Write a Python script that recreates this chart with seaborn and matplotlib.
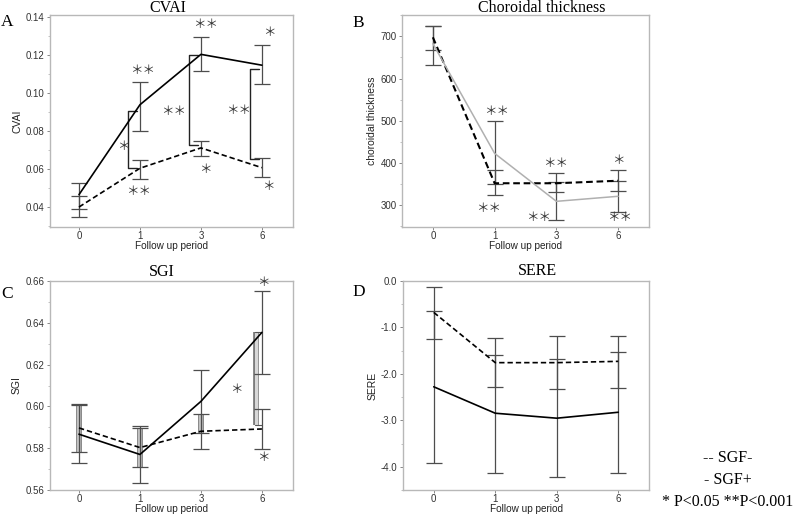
import numpy as np
import pandas as pd
import matplotlib
matplotlib.use('Agg')
import matplotlib.pyplot as plt
import seaborn as sns
from matplotlib.ticker import AutoMinorLocator, FormatStrFormatter

# ---------------- data ----------------
periods = ['0', '1', '3', '6']
groups = ['SGF-', 'SGF+']

# A: CVAI
cvai_neg = [0.0400, 0.0604, 0.0711, 0.0607]
cvai_pos = [0.0465, 0.0938, 0.1203, 0.1146]
cvai_neg_lo = [0.0348, 0.0550, 0.0666, 0.0556]
cvai_neg_hi = [0.0456, 0.0649, 0.0745, 0.0660]
cvai_pos_lo = [0.0390, 0.0800, 0.1116, 0.1047]
cvai_pos_hi = [0.0526, 0.1060, 0.1294, 0.1253]
cvai_br_at = [1, 2, 3]
cvai_br_top = [0.0907, 0.1197, 0.1124]
cvai_br_bot = [0.0605, 0.0727, 0.0653]
cvai_star_x = [1.05, 0.98, 0.73, 1.55, 2.08, 2.07, 2.61, 3.12, 3.10]
cvai_star_y = [0.1116, 0.0482, 0.0718, 0.0900, 0.1360, 0.0600, 0.0906, 0.1316, 0.0508]
cvai_star_s = ['＊＊', '＊＊', '＊', '＊＊', '＊＊', '＊', '＊＊', '＊', '＊']

# B: Choroidal thickness
thick_neg = [698, 351, 351, 357]
thick_pos = [683, 422, 308, 320]
thick_neg_lo = [668, 323, 330, 333]
thick_neg_hi = [726, 383, 375, 383]
thick_pos_lo = [633, 349, 264, 283]
thick_pos_hi = [726, 498, 355, 357]
thick_star_x = [1.03, 0.90, 1.99, 1.71, 3.00, 3.03]
thick_star_y = [522, 291, 399, 270, 404, 270]
thick_star_s = ['＊＊', '＊＊', '＊＊', '＊＊', '＊', '＊＊']

# C: SGI
sgi_neg = [0.5897, 0.5803, 0.5881, 0.5892]
sgi_pos = [0.5867, 0.5770, 0.6024, 0.6354]
sgi_neg_lo = [0.5784, 0.5708, 0.5798, 0.5795]
sgi_neg_hi = [0.6010, 0.5898, 0.5962, 0.5989]
sgi_pos_lo = [0.5727, 0.5635, 0.5874, 0.6156]
sgi_pos_hi = [0.6007, 0.5905, 0.6175, 0.6552]
sgi_br_at = [3]
sgi_br_top = [0.6354]
sgi_br_bot = [0.5910]
sgi_star_x = [3.02, 2.585, 3.02]
sgi_star_y = [0.6592, 0.6080, 0.5754]
sgi_star_s = ['＊', '＊', '＊']

# D: SERE
sere_neg = [-0.676, -1.758, -1.758, -1.730]
sere_pos = [-2.278, -2.847, -2.954, -2.826]
sere_neg_lo = [-1.246, -2.278, -2.327, -2.299]
sere_neg_hi = [-0.128, -1.224, -1.189, -1.174]
sere_pos_lo = [-3.915, -4.128, -4.221, -4.135]
sere_pos_hi = [-0.648, -1.601, -1.687, -1.530]

# ---------------- style ----------------
sns.set_style('white')
plt.rcParams['font.family'] = ['Liberation Sans', 'DejaVu Sans']

fig = plt.figure(figsize=(8, 5.14), dpi=100)
W, H = 800, 514


def axes_px(l, t, r, b):
    return fig.add_axes([l / W, 1 - b / H, (r - l) / W, (b - t) / H])


SPINE = '#b8b8b8'
EBAR = '#4d4d4d'
SERIF = ['Liberation Serif', 'DejaVu Serif']
STARFONT = ['Noto Sans CJK JP', 'DejaVu Sans']


def panel(ax, neg, pos, neg_lo, neg_hi, pos_lo, pos_hi, pos_color, ylim, yticks, fmt,
          ylabel, title, title_x, title_dy, xlim, overlap=False, neg_lw=1.2, pos_lw=1.2):
    x = np.arange(len(periods))
    if overlap:
        for i in x:
            lo = max(neg_lo[i], pos_lo[i])
            hi = min(neg_hi[i], pos_hi[i])
            if hi > lo:
                ax.plot([i, i], [lo, hi], color='#6a6a6a', lw=4.0, solid_capstyle='butt', zorder=1)
                ax.plot([i, i], [lo, hi], color='#d8d8d8', lw=2.6, solid_capstyle='butt', zorder=1.1)
    for lo, hi, m in ((neg_lo, neg_hi, neg), (pos_lo, pos_hi, pos)):
        m = np.array(m)
        ax.errorbar(x, m, yerr=[m - np.array(lo), np.array(hi) - m], fmt='none',
                    ecolor=EBAR, elinewidth=0.9, capsize=5.5, capthick=0.9, zorder=2)
    df = pd.DataFrame({'x': np.tile(x, 2), 'value': list(neg) + list(pos),
                       'group': [groups[0]] * 4 + [groups[1]] * 4})
    sns.lineplot(data=df, x='x', y='value', hue='group', style='group',
                 palette={groups[0]: 'black', groups[1]: pos_color},
                 dashes={groups[0]: (3.2, 1.8), groups[1]: ''},
                 linewidth=1.2, legend=False, ax=ax, sort=False, zorder=3)
    ax.lines[-2].set_linewidth(neg_lw)
    ax.lines[-1].set_linewidth(pos_lw)
    ax.set_xlim(*xlim)
    ax.set_ylim(*ylim)
    ax.set_xticks(x)
    ax.set_xticklabels(periods)
    ax.set_yticks(yticks)
    ax.yaxis.set_major_formatter(FormatStrFormatter(fmt))
    ax.yaxis.set_minor_locator(AutoMinorLocator(2))
    ax.tick_params(axis='both', which='major', direction='out', length=2.5, width=0.7,
                   color='#888888', labelsize=7, labelcolor='#333333', pad=1.5,
                   bottom=True, left=True)
    ax.tick_params(axis='x', which='major', length=2, pad=1)
    ax.tick_params(axis='y', which='minor', direction='out', length=1.8, width=0.5,
                   color='#aaaaaa', left=True)
    for s in ax.spines.values():
        s.set_color(SPINE)
        s.set_linewidth(1.0)
    ax.set_xlabel('Follow up period', fontsize=7.2, color='#222222', labelpad=0)
    ax.set_ylabel(ylabel, fontsize=7.5, color='#222222', labelpad=2.5)
    ax.text(title_x, 1 + title_dy, title, transform=ax.transAxes, ha='center', va='center',
            fontsize=11.5, family=SERIF, color='black')


def brackets(ax, at, top, bot, dx, tick, color, lw, thick=False):
    for i, t, b in zip(at, top, bot):
        xb = i + dx
        if thick:
            ax.plot([xb, xb], [b, t], color='#6a6a6a', lw=4.0, solid_capstyle='butt', zorder=1.5)
            ax.plot([xb, xb], [b, t], color='#d8d8d8', lw=2.4, solid_capstyle='butt', zorder=1.6)
            ax.plot([xb - 0.03, xb + tick], [t, t], color=color, lw=lw, zorder=1.7)
            ax.plot([xb - 0.03, xb + tick], [b, b], color=color, lw=lw, zorder=1.7)
        else:
            ax.plot([xb + tick, xb, xb, xb + tick], [t, t, b, b], color=color, lw=lw, zorder=1.5)


def stars(ax, xs, ys, ss):
    for xx, yy, s in zip(xs, ys, ss):
        ax.text(xx, yy, s, ha='center', va='center', fontsize=9, family=STARFONT,
                color='#333333', zorder=5)


# Panel A
axA = axes_px(50, 15, 293, 227)
panel(axA, cvai_neg, cvai_pos, cvai_neg_lo, cvai_neg_hi, cvai_pos_lo, cvai_pos_hi,
      'black', (0.0295, 0.141), [0.04, 0.06, 0.08, 0.10, 0.12, 0.14], '%.2f',
      'CVAI', 'CVAI', 0.486, 0.035, (-0.475, 3.51))
brackets(axA, cvai_br_at, cvai_br_top, cvai_br_bot, -0.19, 0.14, '#222222', 1.0)
stars(axA, cvai_star_x, cvai_star_y, cvai_star_s)

# Panel B
axB = axes_px(402, 15, 649, 227)
panel(axB, thick_neg, thick_pos, thick_neg_lo, thick_neg_hi, thick_pos_lo, thick_pos_hi,
      '#b0b0b0', (247, 751), [300, 400, 500, 600, 700], '%d',
      'choroidal thickness', 'Choroidal thickness', 0.567, 0.035, (-0.5, 3.5),
      neg_lw=1.5, pos_lw=1.1)
stars(axB, thick_star_x, thick_star_y, thick_star_s)

# Panel C
axC = axes_px(50, 281, 293, 490)
panel(axC, sgi_neg, sgi_pos, sgi_neg_lo, sgi_neg_hi, sgi_pos_lo, sgi_pos_hi,
      'black', (0.56, 0.66), [0.56, 0.58, 0.60, 0.62, 0.64, 0.66], '%.2f',
      'SGI', 'SGI', 0.46, 0.045, (-0.475, 3.51), overlap=True)
brackets(axC, sgi_br_at, sgi_br_top, sgi_br_bot, -0.09, 0.09, '#555555', 0.8, thick=True)
stars(axC, sgi_star_x, sgi_star_y, sgi_star_s)

# Panel D
axD = axes_px(403, 281, 649, 490)
panel(axD, sere_neg, sere_pos, sere_neg_lo, sere_neg_hi, sere_pos_lo, sere_pos_hi,
      'black', (-4.5, 0.0), [-4.0, -3.0, -2.0, -1.0, 0.0], '%.1f',
      'SERE', 'SERE', 0.545, 0.05, (-0.5, 3.5))

# panel letters
for lab, px, py in (('A', 7.5, 22.5), ('B', 358, 23), ('C', 7, 294), ('D', 359, 292)):
    fig.text(px / W, 1 - py / H, lab, ha='center', va='center', fontsize=12.5,
             family=SERIF, color='black')

# legend text
for txt, py in (('-- SGF-', 458), ('- SGF+', 480), ('* P<0.05 **P<0.001', 502)):
    fig.text(728 / W, 1 - py / H, txt, ha='center', va='center', fontsize=11.5,
             family=SERIF, color='black')

fig.savefig('out.png', dpi=100)
